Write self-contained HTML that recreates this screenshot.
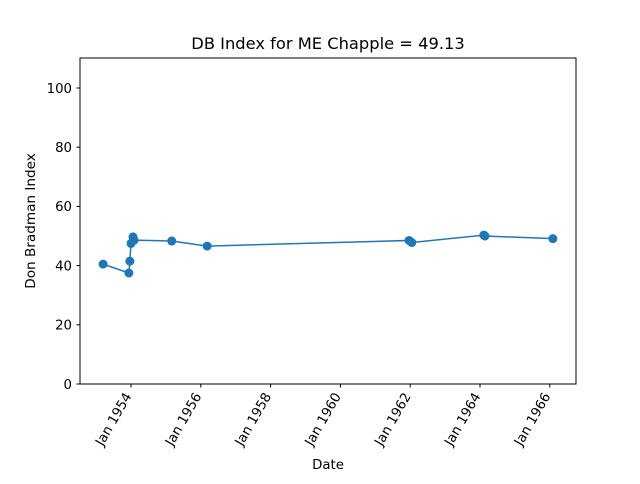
<!DOCTYPE html>
<html><head><meta charset="utf-8"><style>
body{margin:0;background:#fff;font-family:"DejaVu Sans","Liberation Sans",sans-serif}
</style></head><body>
<svg id="c" width="640" height="480" xmlns="http://www.w3.org/2000/svg" font-family="DejaVu Sans, Liberation Sans, sans-serif">
<rect width="640" height="480" fill="#fff"/>
<text x="328" y="49" font-size="16.3" text-anchor="middle">DB Index for ME Chapple = 49.13</text>
<text x="328" y="469" font-size="13.3" text-anchor="middle">Date</text>
<text transform="translate(35,221) rotate(-90)" font-size="13.6" text-anchor="middle">Don Bradman Index</text>
<g id="ax"></g>
<rect x="80" y="58" width="496" height="326" fill="none" stroke="#000" stroke-width="1"/>
</svg>
<script>
const dates=["1953-03-15","1953-12-10","1953-12-20","1954-01-01","1954-01-22","1954-02-02","1955-03-03","1956-03-08","1961-12-20","1962-01-18","1964-02-10","1964-02-22","1966-02-02"];
const values=[40.5,37.5,41.5,47.5,49.7,48.6,48.3,46.6,48.5,47.8,50.3,50.0,49.1];
const yTicks=[0,20,40,60,80,100];
const xTickYears=[1954,1956,1958,1960,1962,1964,1966];
const xTickLabels=["Jan 1954","Jan 1956","Jan 1958","Jan 1960","Jan 1962","Jan 1964","Jan 1966"];
const NS="http://www.w3.org/2000/svg",ax=document.getElementById('ax');
function yr(s){const d=new Date(s+"T00:00:00Z");const y=d.getUTCFullYear();const a=Date.UTC(y,0,1),b=Date.UTC(y+1,0,1);return y+(d-a)/(b-a);}
function X(t){return 131+(t-1954)*34.9;}
function Y(v){return 384-v*2.96;}
function mk(tag,at){const e=document.createElementNS(NS,tag);for(const k in at)e.setAttribute(k,at[k]);ax.appendChild(e);return e;}
yTicks.forEach(v=>{
 const t=mk('line',{x1:76.5,x2:80,y1:Y(v),y2:Y(v),stroke:'#000'});
 
 
 const l=mk('text',{x:72,y:Y(v)+4.8,'font-size':13.3,'text-anchor':'end'});l.textContent=v;
 
 
});
xTickYears.forEach((y,i)=>{
 const x=X(y);
 const t=mk('line',{x1:x,x2:x,y1:384,y2:387.5,stroke:'#000'});
 
 
 const l=mk('text',{transform:`translate(${x+1},${396}) rotate(-60)`,'font-size':13.3,'text-anchor':'end'});l.textContent=xTickLabels[i];
 
 
});
const pts=dates.map((d,i)=>[X(yr(d)),Y(values[i])]);
const pl=mk('polyline',{points:pts.map(p=>p.join(',')).join(' '),fill:'none',stroke:'#1f77b4','stroke-width':1.5});


pts.forEach(p=>{
 const c=mk('circle',{cx:p[0],cy:p[1],r:4.5,fill:'#1f77b4'});
 
 
});
</script>
</body></html>
